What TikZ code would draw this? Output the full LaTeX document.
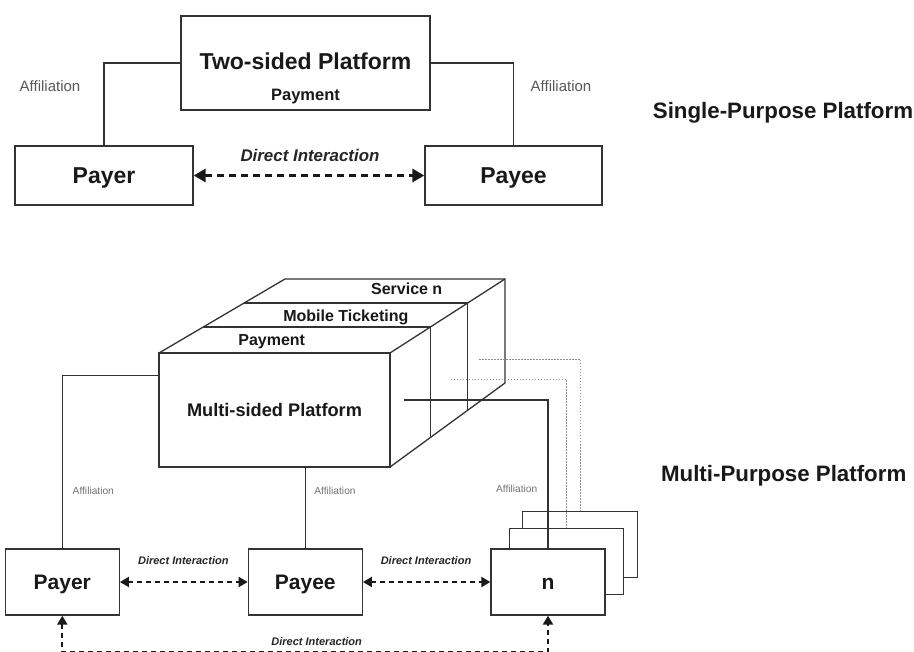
\documentclass[tikz,border=0pt]{standalone}
\usepackage{fontspec}
\setmainfont{Liberation Sans}
\usetikzlibrary{arrows.meta,calc}
\begin{document}
\begin{tikzpicture}[x=1pt,y=-1pt,
 ln/.style={draw=black!80,line width=1.3pt,line join=miter},
 bx/.style={ln,fill=white,rectangle,inner sep=0pt,text=black!90},
 txtbig/.style={font=\fontsize{23}{23}\selectfont\bfseries,text height=16.5pt,text depth=0pt},
 txtmid/.style={font=\fontsize{21}{21}\selectfont\bfseries,text height=15pt,text depth=0pt},
 txtplat/.style={font=\fontsize{18.2}{18.2}\selectfont\bfseries,text height=13pt,text depth=0pt},
 aff/.style={text=black!65,font=\fontsize{15}{15}\selectfont,anchor=base,inner sep=0pt},
 affs/.style={text=black!55,font=\fontsize{10.2}{10.2}\selectfont,anchor=base,inner sep=0pt},
 di/.style={font=\fontsize{16.9}{16.9}\selectfont\bfseries\itshape,anchor=base,inner sep=0pt,text=black!85},
 dis/.style={font=\fontsize{11}{11}\selectfont\bfseries\itshape,anchor=base,inner sep=0pt,text=black!85},
 lbl/.style={font=\fontsize{16}{16}\selectfont\bfseries,anchor=base,inner sep=0pt,text=black!90},
 ttl/.style={font=\fontsize{22.3}{22.3}\selectfont\bfseries,anchor=base,inner sep=0pt,text=black!90},
 dar/.style={draw=black!90,line width=3pt,dash pattern=on 7pt off 5pt,{Triangle[length=12pt,width=13pt]}-{Triangle[length=12pt,width=13pt]}},
 dars/.style={draw=black!90,line width=2pt,dash pattern=on 5pt off 4pt,{Triangle[length=9pt,width=10pt]}-{Triangle[length=9pt,width=10pt]}},
 dotln/.style={draw=black!45,line width=0.8pt,dash pattern=on 1.5pt off 1.5pt},
]
\useasboundingbox[fill=white] (0,0) rectangle (914,652);

% ---------- Single-purpose platform ----------
\node[bx,minimum width=249pt,minimum height=94pt] (tsp) at (305.5,63) {};
\node[lbl,font=\fontsize{23}{23}\selectfont\bfseries] (tsptitle) at (305.5,70) {Two-sided Platform};
\node[lbl,font=\fontsize{16.5}{16.5}\selectfont\bfseries] (tsppay) at (305.5,101) {Payment};
\node[bx,txtbig,minimum width=178pt,minimum height=59pt] (pay1) at (104,175.5) {Payer};
\node[bx,txtbig,minimum width=177pt,minimum height=59pt] (pye1) at (513.5,175.5) {Payee};
\draw[ln] (pay1.north) |- (tsp.west);
\draw[ln] (tsp.east) -| (pye1.north);
\draw[dar] (pay1.east) -- (pye1.west);
\node[di] (di1) at (310,162) {Direct Interaction};
\node[aff] (aff1) at (50,91.7) {Affiliation};
\node[aff] (aff2) at (561,91.7) {Affiliation};
\node[ttl] (spp) at (783,119) {Single-Purpose Platform};

% ---------- Multi-purpose platform ----------
\draw[ln] (159,353) -- (285,279) -- (505,279) -- (505,383) -- (390,467);
\draw[ln] (390,353) -- (505,279);
\draw[ln] (203,327) -- (430.4,327) -- (430.4,437.5);
\draw[ln] (244.1,303) -- (467.7,303) -- (467.7,410.2);
\node[bx,txtplat,minimum width=231pt,minimum height=114pt] (msp) at (274.5,410) {Multi-sided Platform};
\node[lbl] (lpay) at (271.7,346) {Payment};
\node[lbl] (lmob) at (345.8,321.7) {Mobile Ticketing};
\node[lbl] (lsrv) at (406.7,294.3) {Service n};

\node[bx,txtmid,minimum width=114pt,minimum height=66pt] (pay2) at (62.3,582) {Payer};
\node[bx,txtmid,minimum width=114pt,minimum height=66pt] (pye2) at (305.3,582) {Payee};
\node[bx,minimum width=115pt,minimum height=66pt] (b3) at (580,544.3) {};
\node[bx,minimum width=114pt,minimum height=66pt] (b2) at (566.3,561.5) {};
\node[bx,txtmid,minimum width=114pt,minimum height=66pt] (nn) at (548,582) {n};

\coordinate (pj) at ($(msp.north west)+(0,23)$);
\draw[ln] (pay2.north) |- (pj);
\draw[ln] (msp.south -| pye2.north) -- (pye2.north);
\coordinate (ns) at (404,400);
\draw[ln] (ns) -| (nn.north);
\coordinate (d2) at (450.7,379);
\draw[dotln] (d2) -| (b2.north);
\coordinate (d3) at (479,359);
\draw[dotln] (d3) -| (b3.north);

\draw[dars] (pay2.east) -- (pye2.west);
\draw[dars] (pye2.east) -- (nn.west);
\coordinate (bot) at (0,652);
\draw[dars] (pay2.south) -- (pay2.south |- bot) -- (nn.south |- bot) -- (nn.south);

\node[dis] (di2) at (183.3,564) {Direct Interaction};
\node[dis] (di3) at (426,564) {Direct Interaction};
\node[dis] (di4) at (316.7,645) {Direct Interaction};
\node[affs] (aff3) at (93.3,494) {Affiliation};
\node[affs] (aff4) at (335,494) {Affiliation};
\node[affs] (aff5) at (516.7,493) {Affiliation};
\node[ttl] (mpp) at (783.7,481.7) {Multi-Purpose Platform};
\end{tikzpicture}
\end{document}
